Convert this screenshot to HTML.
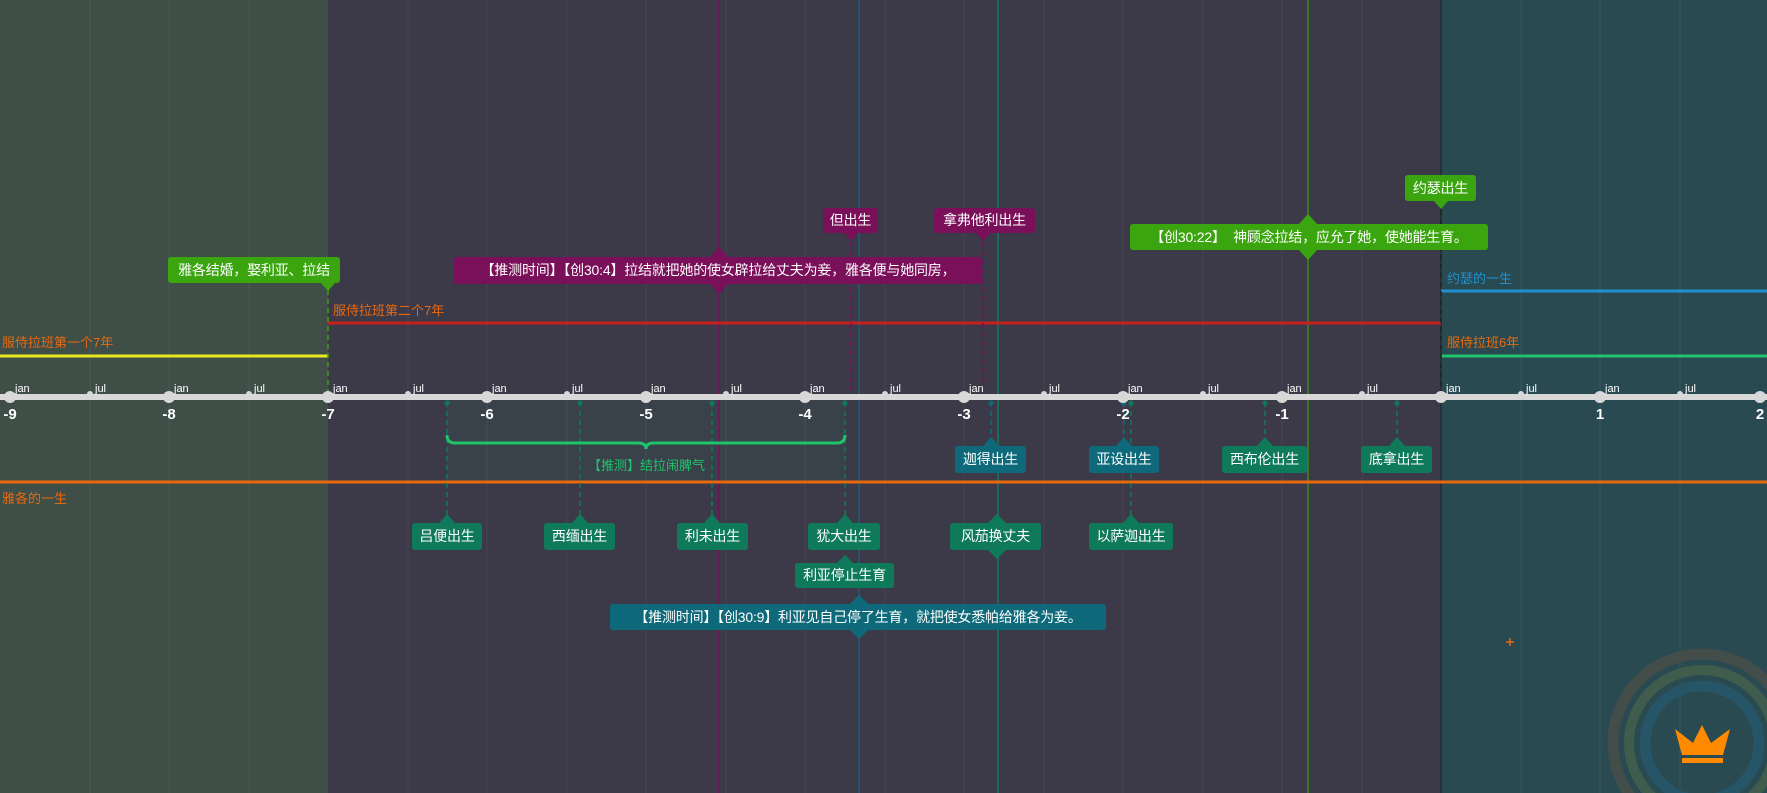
<!DOCTYPE html>
<html><head><meta charset="utf-8"><style>
body{margin:0;width:1767px;height:793px;overflow:hidden;background:#3c3949;font-family:"Liberation Sans","Noto Sans CJK SC",sans-serif;position:relative}
.b{position:absolute;color:#fff;font-size:14px;text-align:center;border-radius:3px;white-space:nowrap;letter-spacing:-0.2px}
.l{position:absolute;font-size:13px;white-space:nowrap}
svg{position:absolute;left:0;top:0}
</style></head><body>
<svg width="1767" height="793">
<rect x="0" y="0" width="328" height="793" fill="#3f4f48"/>
<rect x="1441" y="0" width="326" height="793" fill="#2a4a52"/>
<g stroke="rgba(255,255,255,0.06)" stroke-width="1">
<line x1="90" y1="0" x2="90" y2="793"/><line x1="169" y1="0" x2="169" y2="793"/><line x1="249" y1="0" x2="249" y2="793"/>
<line x1="408" y1="0" x2="408" y2="793"/><line x1="487" y1="0" x2="487" y2="793"/><line x1="567" y1="0" x2="567" y2="793"/><line x1="646" y1="0" x2="646" y2="793"/>
<line x1="726" y1="0" x2="726" y2="793"/><line x1="805" y1="0" x2="805" y2="793"/><line x1="885" y1="0" x2="885" y2="793"/><line x1="964" y1="0" x2="964" y2="793"/>
<line x1="1044" y1="0" x2="1044" y2="793"/><line x1="1123" y1="0" x2="1123" y2="793"/><line x1="1203" y1="0" x2="1203" y2="793"/><line x1="1282" y1="0" x2="1282" y2="793"/>
<line x1="1362" y1="0" x2="1362" y2="793"/><line x1="1521" y1="0" x2="1521" y2="793"/><line x1="1600" y1="0" x2="1600" y2="793"/><line x1="1680" y1="0" x2="1680" y2="793"/>
</g>
<rect x="447" y="399" width="398" height="83" fill="rgba(30,196,106,0.07)"/>
<line x1="719" y1="0" x2="719" y2="793" stroke="#7a0f5a" stroke-width="1.5"/>
<line x1="859" y1="0" x2="859" y2="793" stroke="#1e5a7a" stroke-width="1.5"/>
<line x1="998" y1="0" x2="998" y2="793" stroke="#0e7a5a" stroke-width="1.5"/>
<line x1="1308" y1="0" x2="1308" y2="793" stroke="#3a8a1e" stroke-width="1.5"/>
<line x1="1441" y1="0" x2="1441" y2="793" stroke="#2a2f38" stroke-width="2"/>
<line x1="0" y1="356" x2="328" y2="356" stroke="#e8e820" stroke-width="3"/>
<line x1="328" y1="323" x2="1441" y2="323" stroke="#c8201e" stroke-width="3"/>
<line x1="1441" y1="291" x2="1767" y2="291" stroke="#1e90d0" stroke-width="3"/>
<line x1="1441" y1="356" x2="1767" y2="356" stroke="#1ec46a" stroke-width="3"/>
<line x1="0" y1="482" x2="1767" y2="482" stroke="#e8690d" stroke-width="3"/>
<g stroke-dasharray="5,4" stroke-width="1.5" fill="none">
<line x1="328" y1="290" x2="328" y2="397" stroke="#3aa50e"/>
<line x1="1441" y1="201" x2="1441" y2="397" stroke="#222"/>
<line x1="851" y1="233" x2="851" y2="397" stroke="#7a0f5a"/>
<line x1="983" y1="233" x2="983" y2="397" stroke="#7a0f5a"/>
<line x1="991" y1="402" x2="991" y2="440" stroke="#0e6a7a"/>
<line x1="1124" y1="402" x2="1124" y2="440" stroke="#0e6a7a"/>
<line x1="1131" y1="402" x2="1131" y2="520" stroke="#0e7a5a"/>
<line x1="1265" y1="402" x2="1265" y2="440" stroke="#0e7a5a"/>
<line x1="1397" y1="402" x2="1397" y2="440" stroke="#0e7a5a"/>
<line x1="447" y1="402" x2="447" y2="518" stroke="#0e7a5a"/>
<line x1="580" y1="402" x2="580" y2="518" stroke="#0e7a5a"/>
<line x1="712" y1="402" x2="712" y2="518" stroke="#0e7a5a"/>
<line x1="845" y1="402" x2="845" y2="518" stroke="#0e7a5a"/>
</g>
<g fill="#0e7a5a"><circle cx="447" cy="403" r="2.5"/><circle cx="580" cy="403" r="2.5"/><circle cx="712" cy="403" r="2.5"/><circle cx="845" cy="403" r="2.5"/><circle cx="1265" cy="403" r="2.5"/><circle cx="1397" cy="403" r="2.5"/><circle cx="1131" cy="403" r="2.5"/></g>
<g fill="#0e6a7a"><circle cx="991" cy="403" r="2.5"/><circle cx="1124" cy="403" r="2.5"/></g>
<line x1="0" y1="397" x2="1767" y2="397" stroke="#d8d8d8" stroke-width="6"/>
<g fill="#d8d8d8">
<circle cx="10" cy="397" r="6"/><circle cx="169" cy="397" r="6"/><circle cx="328" cy="397" r="6"/><circle cx="487" cy="397" r="6"/><circle cx="646" cy="397" r="6"/><circle cx="805" cy="397" r="6"/><circle cx="964" cy="397" r="6"/><circle cx="1123" cy="397" r="6"/><circle cx="1282" cy="397" r="6"/><circle cx="1441" cy="397" r="6"/><circle cx="1600" cy="397" r="6"/><circle cx="1760" cy="397" r="6"/>
<circle cx="90" cy="394" r="3"/><circle cx="249" cy="394" r="3"/><circle cx="408" cy="394" r="3"/><circle cx="567" cy="394" r="3"/><circle cx="726" cy="394" r="3"/><circle cx="885" cy="394" r="3"/><circle cx="1044" cy="394" r="3"/><circle cx="1203" cy="394" r="3"/><circle cx="1362" cy="394" r="3"/><circle cx="1521" cy="394" r="3"/><circle cx="1680" cy="394" r="3"/>
</g>
<g fill="#fff" font-size="11" font-family="Liberation Sans, sans-serif">
<text x="15" y="392">jan</text><text x="95" y="392">jul</text><text x="174" y="392">jan</text><text x="254" y="392">jul</text><text x="333" y="392">jan</text><text x="413" y="392">jul</text><text x="492" y="392">jan</text><text x="572" y="392">jul</text><text x="651" y="392">jan</text><text x="731" y="392">jul</text><text x="810" y="392">jan</text><text x="890" y="392">jul</text><text x="969" y="392">jan</text><text x="1049" y="392">jul</text><text x="1128" y="392">jan</text><text x="1208" y="392">jul</text><text x="1287" y="392">jan</text><text x="1367" y="392">jul</text><text x="1446" y="392">jan</text><text x="1526" y="392">jul</text><text x="1605" y="392">jan</text><text x="1685" y="392">jul</text>
</g>
<g fill="#fff" font-size="15" font-weight="bold" text-anchor="middle" font-family="Liberation Sans, sans-serif">
<text x="10" y="419">-9</text><text x="169" y="419">-8</text><text x="328" y="419">-7</text><text x="487" y="419">-6</text><text x="646" y="419">-5</text><text x="805" y="419">-4</text><text x="964" y="419">-3</text><text x="1123" y="419">-2</text><text x="1282" y="419">-1</text><text x="1600" y="419">1</text><text x="1760" y="419">2</text>
</g>
<path d="M447 435 Q447 443 455 443 L638 443 Q646 443 646 449 Q646 443 654 443 L837 443 Q845 443 845 435" stroke="#1ec46a" stroke-width="3" fill="none"/>
<polygon points="321,283 335,283 328,291" fill="#3aa50e"/>
<polygon points="710,257 719,247 728,257" fill="#7a0f5a"/><polygon points="710,284 719,294 728,284" fill="#7a0f5a"/>
<polygon points="844,233 858,233 851,241" fill="#7a0f5a"/>
<polygon points="976,233 990,233 983,241" fill="#7a0f5a"/>
<polygon points="1299,224 1308,214 1317,224" fill="#3aa50e"/><polygon points="1299,250 1308,260 1317,250" fill="#3aa50e"/>
<polygon points="1434,201 1448,201 1441,209" fill="#3aa50e"/>
<polygon points="983,446 991,437 999,446" fill="#0e6a7a"/>
<polygon points="1116,446 1124,437 1132,446" fill="#0e6a7a"/>
<polygon points="1257,446 1265,437 1273,446" fill="#0e7a5a"/>
<polygon points="1389,446 1397,437 1405,446" fill="#0e7a5a"/>
<polygon points="439,523 447,514 455,523" fill="#0e7a5a"/>
<polygon points="572,523 580,514 588,523" fill="#0e7a5a"/>
<polygon points="704,523 712,514 720,523" fill="#0e7a5a"/>
<polygon points="837,523 845,514 853,523" fill="#0e7a5a"/>
<polygon points="988,523 997,514 1006,523" fill="#0e7a5a"/><polygon points="988,550 997,559 1006,550" fill="#0e7a5a"/>
<polygon points="1123,523 1131,514 1139,523" fill="#0e7a5a"/>
<polygon points="837,563 845,555 853,563" fill="#0e7a5a"/>
<polygon points="850,604 859,595 868,604" fill="#0e6a7a"/><polygon points="850,630 859,639 868,630" fill="#0e6a7a"/>
<path d="M1506 642 H1514 M1510 638 V646" stroke="#e8690d" stroke-width="1.5"/>
<circle cx="1702" cy="743" r="89" stroke="#4a4e48" stroke-width="11" fill="none" opacity="0.8"/>
<circle cx="1702" cy="743" r="73" stroke="#3f5c4c" stroke-width="10" fill="none"/>
<circle cx="1702" cy="743" r="57" stroke="#255566" stroke-width="11" fill="none"/>
<polygon points="1675,729 1693,743 1702,725 1711,743 1730,729 1723,755 1682,755" fill="#ff8a00"/>
<rect x="1682" y="758" width="41" height="5" fill="#ff8a00"/>
</svg>
<div class="l" style="left:2px;top:332px;color:#e8690d">服侍拉班第一个7年</div>
<div class="l" style="left:333px;top:300px;color:#e8690d">服侍拉班第二个7年</div>
<div class="l" style="left:1447px;top:268px;color:#1e90d0">约瑟的一生</div>
<div class="l" style="left:1447px;top:332px;color:#e8690d">服侍拉班6年</div>
<div class="l" style="left:2px;top:488px;color:#e8690d">雅各的一生</div>
<div class="l" style="left:588px;top:455px;color:#1ec46a">【推测】结拉闹脾气</div>
<div class="b" style="left:168px;top:257px;width:172px;height:26px;line-height:26px;background:#3aa50e">雅各结婚，娶利亚、拉结</div>
<div class="b" style="left:454px;top:257px;width:528px;height:27px;line-height:27px;background:#7a0f5a">【推测时间】【创30:4】拉结就把她的使女辟拉给丈夫为妾，雅各便与她同房，</div>
<div class="b" style="left:823px;top:208px;width:55px;height:25px;line-height:25px;background:#7a0f5a">但出生</div>
<div class="b" style="left:934px;top:208px;width:101px;height:25px;line-height:25px;background:#7a0f5a">拿弗他利出生</div>
<div class="b" style="left:1130px;top:224px;width:358px;height:26px;line-height:26px;background:#3aa50e">【创30:22】&nbsp;&nbsp;神顾念拉结，应允了她，使她能生育。</div>
<div class="b" style="left:1405px;top:175px;width:71px;height:26px;line-height:26px;background:#3aa50e">约瑟出生</div>
<div class="b" style="left:955px;top:446px;width:71px;height:27px;line-height:27px;background:#0e6a7a">迦得出生</div>
<div class="b" style="left:1089px;top:446px;width:70px;height:27px;line-height:27px;background:#0e6a7a">亚设出生</div>
<div class="b" style="left:1222px;top:446px;width:85px;height:27px;line-height:27px;background:#0e7a5a">西布伦出生</div>
<div class="b" style="left:1361px;top:446px;width:71px;height:27px;line-height:27px;background:#0e7a5a">底拿出生</div>
<div class="b" style="left:412px;top:523px;width:70px;height:27px;line-height:27px;background:#0e7a5a">吕便出生</div>
<div class="b" style="left:544px;top:523px;width:71px;height:27px;line-height:27px;background:#0e7a5a">西缅出生</div>
<div class="b" style="left:677px;top:523px;width:71px;height:27px;line-height:27px;background:#0e7a5a">利未出生</div>
<div class="b" style="left:808px;top:523px;width:72px;height:27px;line-height:27px;background:#0e7a5a">犹大出生</div>
<div class="b" style="left:950px;top:523px;width:91px;height:27px;line-height:27px;background:#0e7a5a">风茄换丈夫</div>
<div class="b" style="left:1089px;top:523px;width:84px;height:27px;line-height:27px;background:#0e7a5a">以萨迦出生</div>
<div class="b" style="left:795px;top:563px;width:99px;height:25px;line-height:25px;background:#0e7a5a">利亚停止生育</div>
<div class="b" style="left:610px;top:604px;width:496px;height:26px;line-height:26px;background:#0e6a7a">【推测时间】【创30:9】利亚见自己停了生育，就把使女悉帕给雅各为妾。</div>
</body></html>
